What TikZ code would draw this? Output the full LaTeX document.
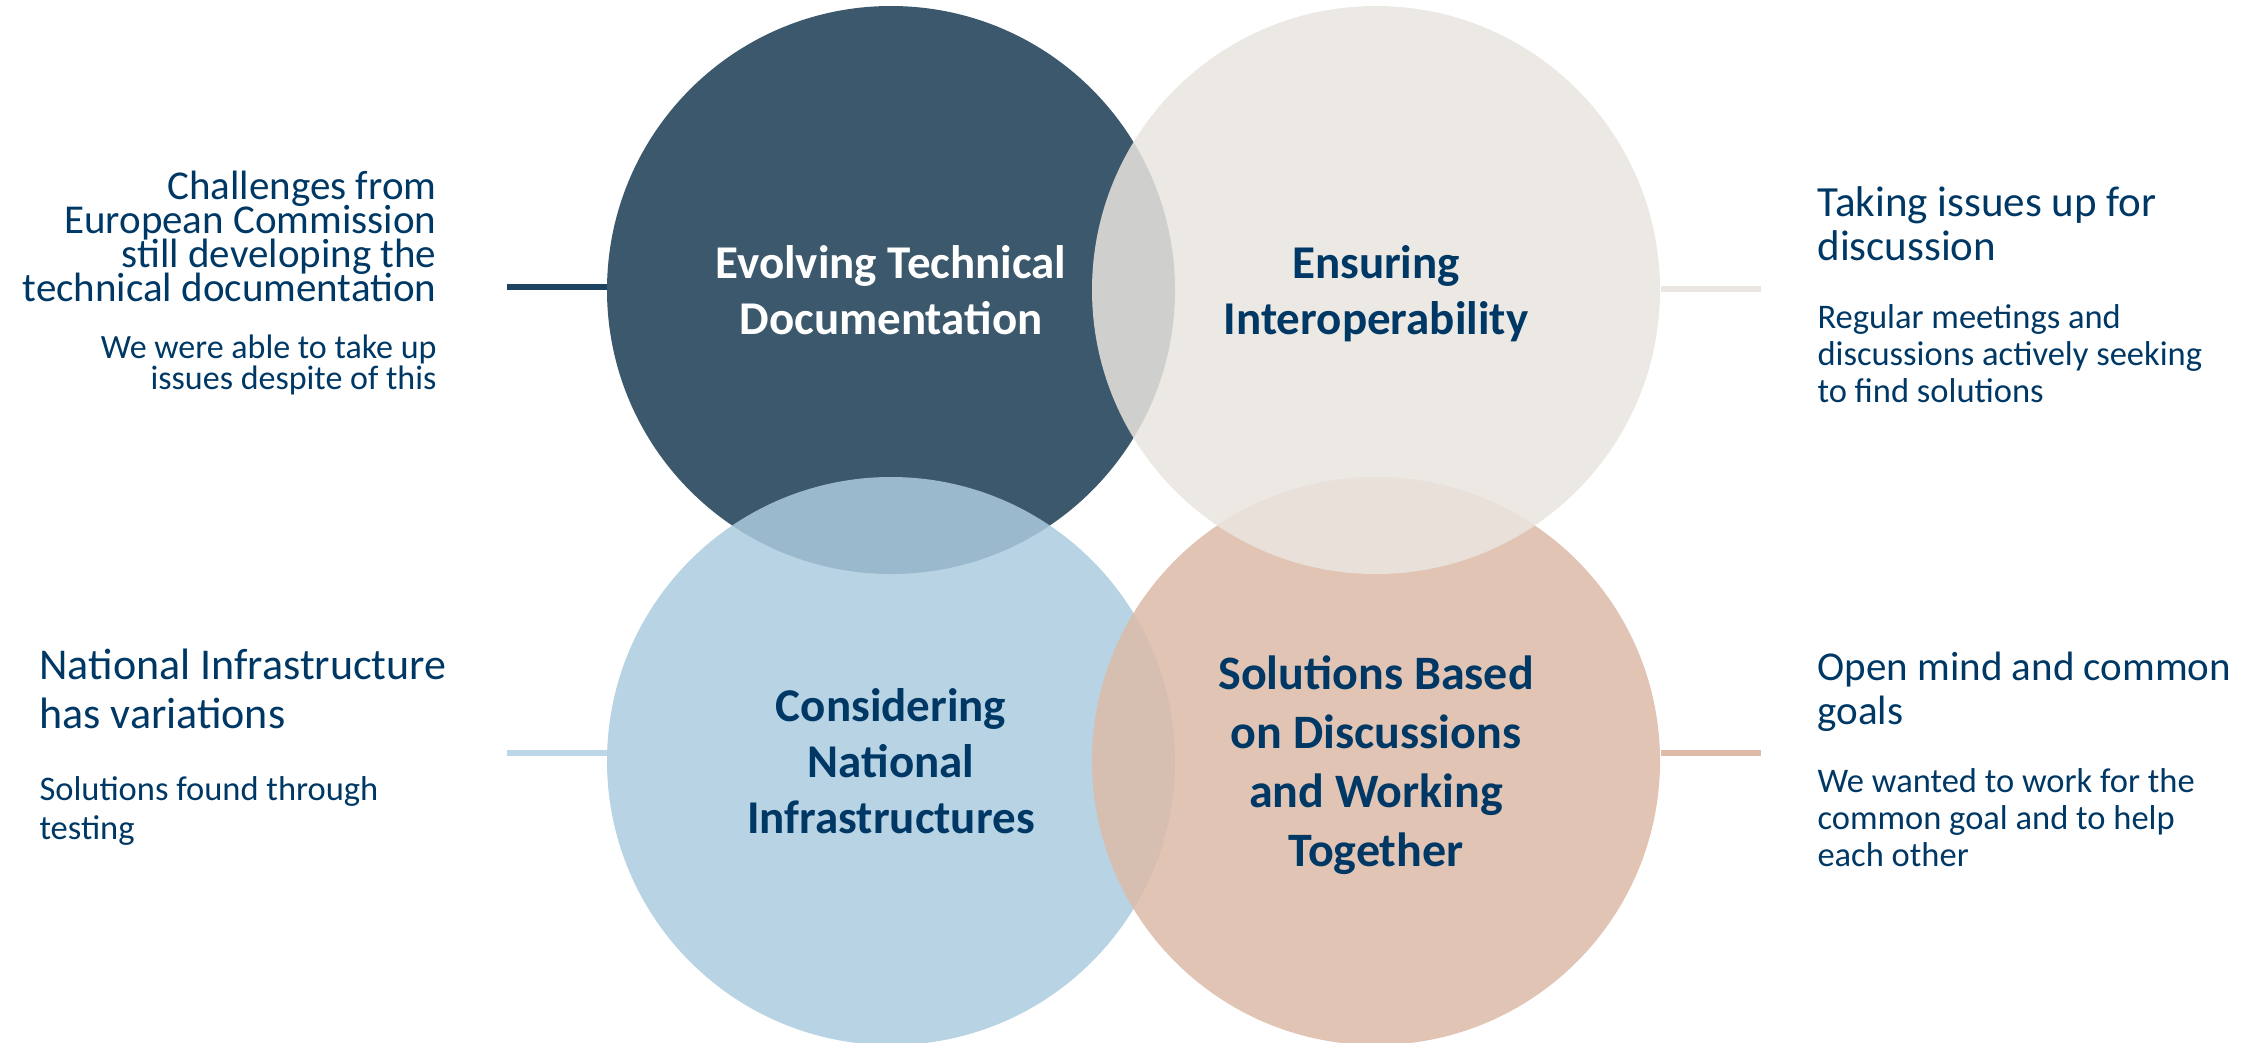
\documentclass[tikz,border=0pt]{standalone}
\usepackage{fontspec}
\setmainfont{Carlito}
\usetikzlibrary{positioning}

\definecolor{slate}{HTML}{3B586C}
\definecolor{sand}{RGB}{233,229,224}
\definecolor{sky}{RGB}{171,203,222}
\definecolor{peach}{RGB}{220,186,167}
\definecolor{navy}{RGB}{0,56,101}
\definecolor{slateline}{RGB}{30,67,96}
\definecolor{sandline}{RGB}{234,230,226}
\definecolor{skyline}{RGB}{188,215,232}
\definecolor{peachline}{RGB}{221,187,167}

\newcommand{\tightlines}{\lineskiplimit=-20pt\relax}

\tikzset{
  bubble/.style={circle, minimum size=227.2pt, inner sep=0pt, align=center,
    fill opacity=0.85, text opacity=1, text=navy, text depth=0pt,
    font=\fontsize{18.8}{22.4}\selectfont\bfseries},
  link/.style={line width=2.4pt},
  heading/.style={inner sep=0pt, text=navy, font=\fontsize{16.8}{17.6}\selectfont},
  detail/.style={inner sep=0pt, text=navy, font=\fontsize{13.8}{14.8}\selectfont},
}

\begin{document}
\begin{tikzpicture}[x=0.4pt, y=-0.4pt]
  \useasboundingbox (0,0) rectangle (2260,1042);

  % four overlapping circles
  \node [bubble, fill=slate, fill opacity=1, text=white] (evolving) at (891,290)
    {Evolving Technical\\Documentation};
  \node [bubble, fill=sky] (considering) at (891,761)
    {Considering\\National\\Infrastructures};
  \node [bubble, fill=peach, font=\fontsize{19.2}{23.6}\selectfont\bfseries]
    (solutions) at (1376,761)
    {Solutions Based\\on Discussions\\and Working\\Together};
  \node [bubble, fill=sand] (ensuring) at (1376,290)
    {Ensuring\\Interoperability};

  % short connectors
  \coordinate [left=40pt of evolving, yshift=1.2pt] (evolvingtail);
  \coordinate [right=40pt of ensuring, yshift=0.4pt] (ensuringtail);
  \coordinate [left=40pt of considering, yshift=3.2pt] (consideringtail);
  \coordinate [right=40pt of solutions, yshift=3.2pt] (solutionstail);

  \draw [link, slateline] (evolving.west |- evolvingtail) -- (evolvingtail);
  \draw [link, sandline] (ensuring.east |- ensuringtail) -- (ensuringtail);
  \draw [link, skyline] (considering.west |- consideringtail) -- (consideringtail);
  \draw [link, peachline] (solutions.east |- solutionstail) -- (solutionstail);

  % side texts
  \node [heading, align=right, anchor=north east,
    font=\fontsize{16.4}{13.6}\selectfont\tightlines]
    (challenges) at (437,171)
    {Challenges from\\European Commission\\still developing the\\technical documentation};
  \node [detail, align=right, anchor=north east, font=\fontsize{13.6}{11.6}\selectfont]
    (despite) at (437,334)
    {We were able to take up\\issues despite of this};

  \node [heading, align=left, anchor=north west, font=\fontsize{17.2}{17.6}\selectfont]
    (taking) at (1817,186)
    {Taking issues up for\\discussion};
  \node [detail, align=left, anchor=north west] (meetings) at (1817,304)
    {Regular meetings and\\discussions actively seeking\\to find solutions};

  \node [heading, align=left, anchor=north west, font=\fontsize{17.6}{19.6}\selectfont]
    (variations) at (39,648)
    {National Infrastructure\\has variations};
  \node [detail, align=left, anchor=north west, font=\fontsize{13.8}{15.6}\selectfont]
    (testing) at (39,776)
    {Solutions found through\\testing};

  \node [heading, align=left, anchor=north west, font=\fontsize{16.4}{17.6}\selectfont]
    (openmind) at (1817,652)
    {Open mind and common\\goals};
  \node [detail, align=left, anchor=north west] (helping) at (1817,768)
    {We wanted to work for the\\common goal and to help\\each other};
\end{tikzpicture}
\end{document}
